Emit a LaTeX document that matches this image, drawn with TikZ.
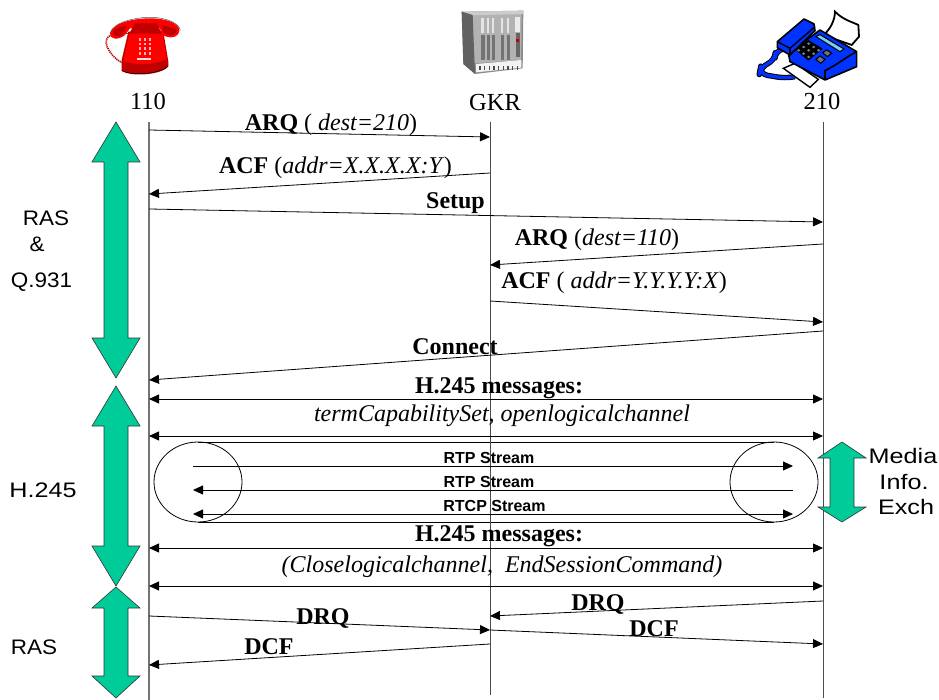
\documentclass[tikz,border=0pt]{standalone}
\usepackage{fontspec}
\setmainfont{Liberation Serif}
\setsansfont{Liberation Sans}
\newfontfamily\widesans[FakeStretch=1.07]{Liberation Sans}
\newfontfamily\widersans[FakeStretch=1.2]{Liberation Sans}
\usetikzlibrary{arrows.meta,calc}
\definecolor{arrowgreen}{HTML}{00CC99}
\definecolor{phonered}{HTML}{FF0000}
\definecolor{phonedark}{HTML}{C00000}
\definecolor{faxblue}{HTML}{0033FF}
\tikzset{
  x=1pt,y=-1pt,
  lifeline/.style={draw=black!70,line width=0.9pt},
  msg/.style={draw=black,line width=0.8pt,-{Triangle[length=10pt,width=9pt]}},
  dmsg/.style={draw=black,line width=0.8pt,{Triangle[length=10pt,width=9pt]}-{Triangle[length=10pt,width=9pt]}},
  lbl/.style={inner sep=0pt,anchor=base,font=\fontsize{24}{26}\selectfont},
  hdr/.style={inner sep=0pt,anchor=base,font=\fontsize{24.5}{26}\selectfont},
  side/.style={inner sep=0pt,anchor=base,font=\widesans\fontsize{21}{24}\selectfont},
  sidew/.style={inner sep=0pt,anchor=base,font=\widersans\fontsize{21}{24}\selectfont},
  small/.style={inner sep=0pt,anchor=base,font=\sffamily\bfseries\fontsize{16}{18}\selectfont},
  bigarrow/.style={draw=black!80,line width=0.6pt,fill=arrowgreen},
  capsule/.style={draw=black,line width=0.8pt},
}
\newcommand{\bigarr}[5]{% cx, top tip, top base, bottom base, bottom tip
  \draw[bigarrow] (#1,#2) -- (#1+24,#3) -- (#1+12,#3) -- (#1+12,#4) -- (#1+24,#4) -- (#1,#5)
   -- (#1-24,#4) -- (#1-12,#4) -- (#1-12,#3) -- (#1-24,#3) -- cycle;}
\begin{document}
\begin{tikzpicture}
\useasboundingbox (0,0) rectangle (939,700);
% ---------- phone
\begin{scope}[shift={(80,0)},scale=1/3]
  \draw[phonedark,line width=1.6pt,dash pattern=on 1.2pt off 0.8pt] (95,105) .. controls (60,115) and (85,165) .. (125,188);
  \fill[phonedark] (125,180) -- (145,95) -- (250,95) -- (265,185) -- (265,198) .. controls (250,225) and (150,232) .. (125,212) -- cycle;
  \fill[phonered] (130,183) -- (148,100) -- (248,100) -- (260,178) .. controls (220,195) and (170,198) .. (130,183) -- cycle;
  \draw[black,line width=0.5pt] (125,212) .. controls (160,228) and (240,222) .. (265,198);
  \draw[black,line width=0.5pt] (130,100) -- (145,100) (250,100) -- (262,105);
  \fill[phonered] (90,100) .. controls (100,65) and (170,55) .. (210,55) .. controls (260,55) and (298,70) .. (298,92)
     .. controls (295,115) and (265,118) .. (245,102) -- (240,85) -- (150,85) -- (135,105) .. controls (115,122) and (88,118) .. (90,100) -- cycle;
  \fill[phonedark] (165,70) -- (230,70) -- (245,100) -- (148,100) -- cycle;
  \fill[phonedark] (100,92) .. controls (115,82) and (125,80) .. (140,76) -- (130,100) .. controls (115,115) and (100,112) .. (100,92) -- cycle;
  \fill[phonedark] (245,75) .. controls (260,78) and (285,85) .. (292,92) .. controls (285,110) and (262,108) .. (252,98) -- cycle;
  \draw[black!70,line width=0.5pt] (90,100) .. controls (100,65) and (170,52) .. (210,52) .. controls (260,52) and (298,70) .. (301,92);
  \foreach \yy in {118,132,146,160}{\foreach \xx in {180,195,210}{
    \fill[white!70!red] (\xx-4,\yy-4) rectangle (\xx+4,\yy+4);}}
  \fill[white!85!red] (172,174) rectangle (214,179);
\end{scope}
% ---------- rack
\begin{scope}[shift={(440,0)},scale=1/3]
  \fill[black!45] (65,35) -- (250,32) -- (248,205) -- (105,222) -- (70,192) -- cycle;
  \fill[black!30] (98,42) -- (245,38) -- (243,180) -- (100,190) -- cycle;
  \fill[black!20] (65,35) -- (250,32) -- (250,42) -- (98,46) -- cycle;
  \fill[black!62] (65,35) -- (98,45) -- (105,222) -- (70,192) -- cycle;
  \foreach \xx/\ww in {122/10,140/8,155/8,183/7,200/6}{
    \fill[black!10] (\xx,55) rectangle (\xx+\ww,100);
    \fill[black!55] (\xx,105) rectangle (\xx+\ww+3,180);}
  \fill[black!8] (225,50) rectangle (240,95);
  \fill[black!60] (228,100) rectangle (240,170);
  \fill[red!75!black] (229,117) rectangle (238,126);
  \fill[black!5] (108,192) -- (244,180) -- (244,203) -- (108,217) -- cycle;
  \foreach \xx in {118,132,146,160,174,188,202,216,230}{
    \fill[black!70] (\xx,197) rectangle (\xx+4,210);}
\end{scope}
% ---------- fax
\begin{scope}[shift={(740,0)},scale=1/3]
  \draw[black,line width=1.8pt,fill=white] (250,105) .. controls (270,90) and (285,60) .. (285,35) .. controls (310,60) and (335,65) .. (355,75) -- (357,110) -- (335,135) -- cycle;
  \draw[black,line width=5.4pt,line join=round,rounded corners=8pt] (125,148) -- (106,150) -- (105,182) -- (62,200) -- (58,222) -- (135,235) -- (165,230);
  \draw[faxblue,line width=3.4pt,line join=round,rounded corners=8pt] (125,148) -- (106,150) -- (105,182) -- (62,200) -- (58,222) -- (135,235) -- (165,230);
  \draw[black,line width=1.4pt,fill=white] (130,205) -- (165,190) -- (235,238) -- (210,262) -- cycle;
  \draw[black,line width=1.6pt,fill=faxblue,line join=round] (145,160) -- (240,90) -- (350,155) -- (350,200) -- (255,240) -- (150,185) -- cycle;
  \draw[black,line width=1.6pt,fill=faxblue,line join=round] (112,125) -- (192,57) -- (222,72) -- (225,92) -- (150,165) -- (112,143) -- cycle;
  \draw[black,line width=1.4pt] (112,125) -- (150,145) -- (225,80);
  \draw[black,line width=1.4pt] (150,145) -- (150,165);
  \draw[black,line width=1pt,fill=cyan!55!white] (228,110) -- (240,104) -- (312,147) -- (300,155) -- cycle;
  \fill[black] (165,148) -- (205,120) -- (248,146) -- (205,182) -- cycle;
  \foreach \aa in {0,1,2}{\foreach \bb in {0,1,2}{
    \fill[black!50] ($(206,125)+(\aa*15,\aa*10)+(\bb*-15,\bb*10)+(-5,6)$) -- ++(5,-4) -- ++(5,4) -- ++(-5,4) -- cycle;}}
  \draw[black,line width=1pt,fill=black!55] (228,178) -- (240,168) -- (255,178) -- (242,190) -- cycle;
  \draw[black,line width=1pt,fill=black!55] (248,158) -- (260,150) -- (275,160) -- (262,170) -- cycle;
  \draw[black,line width=1.6pt] (255,240) -- (255,212) .. controls (290,195) and (320,170) .. (350,155);
\end{scope}
% ---------- big arrows
\bigarr{116}{122}{162}{338}{378}
\bigarr{116}{386}{426}{546}{586}
\bigarr{116}{587}{608}{676}{698}
% ---------- capsule
\coordinate (capTL) at (198,442);
\coordinate (capTR) at (774,442);
\coordinate (capBL) at (198,522);
\coordinate (capBR) at (774,522);
\draw[capsule] (capTL) -- (capTR) (capBL) -- (capBR);
\draw[capsule] (198,482) ellipse [x radius=44,y radius=40];
\draw[capsule] (774,482) ellipse [x radius=44,y radius=40];
% ---------- lifelines
\coordinate (t110) at (149,122); \coordinate (b110) at (149,700);
\coordinate (tgk) at (490,122);  \coordinate (bgk) at (490,695);
\coordinate (t210) at (823,122); \coordinate (b210) at (823,698);
\draw[lifeline,draw=black!55,line width=1.2pt] (t110) -- (b110);
\draw[lifeline] (tgk) -- (bgk);
\draw[lifeline] (t210) -- (b210);
% ---------- right green arrow
\draw[bigarrow] (842,442) -- (866,458) -- (854,458) -- (854,507) -- (866,507) -- (842,522)
   -- (818,507) -- (830,507) -- (830,458) -- (818,458) -- cycle;
% ---------- message ends
\foreach \n/\x/\y in {a1/149/130,a2/490/137,b1/490/173,b2/149/194,c1/149/209,c2/823/222,
  d1/823/244,d2/490/265,e1/490/301,e2/823/322,f1/823/331,f2/149/380,
  g1/149/399,g2/823/399,h1/149/436,h2/823/436,
  i1/193/466,i2/793/466,j1/793/490,j2/193/490,k1/193/514,k2/793/514,
  l1/149/548,l2/823/548,m1/149/586,m2/823/586,
  n1/149/616,n2/490/630,o1/823/601,o2/490/616,p1/490/630,p2/823/644,q1/490/644,q2/149/665}
  {\coordinate (\n) at (\x,\y);}
\draw[msg] (a1) -- (a2);
\draw[msg] (b1) -- (b2);
\draw[msg] (c1) -- (c2);
\draw[msg] (d1) -- (d2);
\draw[msg] (e1) -- (e2);
\draw[msg] (f1) -- (f2);
\draw[dmsg] (g1) -- (g2);
\draw[dmsg] (h1) -- (h2);
\draw[msg] (i1) -- (i2);
\draw[msg] (j1) -- (j2);
\draw[dmsg] (k1) -- (k2);
\draw[dmsg] (l1) -- (l2);
\draw[dmsg] (m1) -- (m2);
\draw[msg] (n1) -- (n2);
\draw[msg] (o1) -- (o2);
\draw[msg] (p1) -- (p2);
\draw[msg] (q1) -- (q2);
% ---------- headers
\node[hdr] (h110) at (148,110) {110};
\node[hdr] (hgk) at (495,111) {GKR};
\node[hdr] (h210) at (822,110) {210};
% ---------- labels
\node[lbl] (la) at (331,131) {\textbf{ARQ} ( \textit{dest=210})};
\node[lbl] (lb) at (335.5,174) {\textbf{ACF} (\textit{addr=X.X.X.X:Y})};
\node[lbl] (lc) at (455.5,209) {\textbf{Setup}};
\node[lbl] (ld) at (597,246) {\textbf{ARQ} (\textit{dest=110})};
\node[lbl] (le) at (614,289) {\textbf{ACF} ( \textit{addr=Y.Y.Y.Y:X})};
\node[lbl] (lf) at (455,354) {\textbf{Connect}};
\node[lbl] (lg) at (499,393) {\textbf{H.245 messages:}};
\node[lbl] (lh) at (502,421) {\textit{termCapabilitySet, openlogicalchannel}};
\node[small] (li) at (489,463) {RTP Stream};
\node[small] (lj) at (489,487) {RTP Stream};
\node[small] (lk) at (494.5,511) {RTCP Stream};
\node[lbl] (ll) at (499,541) {\textbf{H.245 messages:}};
\node[lbl] (lm) at (502,572) {\textit{(Closelogicalchannel,\ \ EndSessionCommand)}};
\node[lbl] (ln) at (323,624) {\textbf{DRQ}};
\node[lbl] (lo) at (598,610) {\textbf{DRQ}};
\node[lbl] (lp) at (654,636) {\textbf{DCF}};
\node[lbl] (lq) at (269,654) {\textbf{DCF}};
% ---------- side labels
\node[side] (s1) at (46,226) {RAS};
\node[side] (s2) at (37,252) {\&};
\node[side] (s3) at (41.5,288) {Q.931};
\node[sidew] (s4) at (43,497) {H.245};
\node[side] (s5) at (34,654) {RAS};
\node[sidew] (s6) at (903,463) {Media};
\node[sidew] (s7) at (904,489) {Info.};
\node[sidew] (s8) at (906,514) {Exch};
\end{tikzpicture}
\end{document}
